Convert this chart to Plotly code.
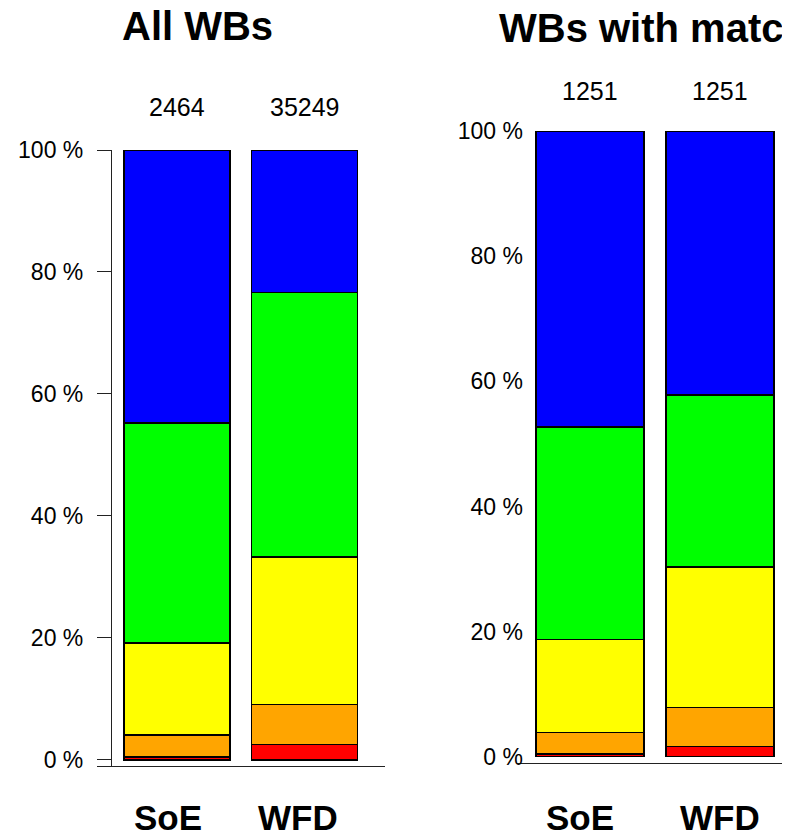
import plotly.graph_objects as go

# ---------------- data ----------------
categories = ["SoE", "WFD"]
status_names = ["Bad", "Poor", "Moderate", "Good", "High"]
status_colors = ["#FF0000", "#FFA500", "#FFFF00", "#00FF00", "#0000FF"]

# percentages, bottom -> top (Bad, Poor, Moderate, Good, High)
all_soe = [0.5, 3.55, 15.15, 36.0, 44.8]
all_wfd = [2.5, 6.6, 24.2, 43.3, 23.4]
match_soe = [0.45, 3.45, 14.85, 33.95, 47.3]
match_wfd = [1.6, 6.3, 22.4, 27.5, 42.2]

all_counts = [2464, 35249]
match_counts = [1251, 1251]

panel_titles = ["All WBs", "WBs with matching status"]
y_ticks = [0, 20, 40, 60, 80, 100]
y_tick_labels = ["0 %", "20 %", "40 %", "60 %", "80 %", "100 %"]

# ---------------- figure ----------------
# the page body has an 8px margin, so the figure is 8px smaller than the window
OFF = 8
W, H = 790 - OFF, 836 - OFF
FONT = "Liberation Sans, Arial, sans-serif"


def px(x):
    return (x - OFF) / W


def py(y):
    return 1 - (y - OFF) / H


fig = go.Figure()
xpos = [0, 1]

for panel, (soe, wfd) in enumerate([(all_soe, all_wfd), (match_soe, match_wfd)]):
    xa = "x" if panel == 0 else "x2"
    ya = "y" if panel == 0 else "y2"
    for i, name in enumerate(status_names):
        fig.add_trace(go.Bar(
            x=xpos, y=[soe[i], wfd[i]], name=name,
            marker=dict(color=status_colors[i], line=dict(color="black", width=1.5)),
            width=0.83, xaxis=xa, yaxis=ya, showlegend=False,
        ))

fig.update_layout(
    barmode="stack",
    width=W, height=H,
    margin=dict(l=0, r=0, t=0, b=0, autoexpand=False),
    paper_bgcolor="white", plot_bgcolor="white",
    font=dict(family=FONT, color="black"),
    xaxis=dict(domain=[px(97), px(385)], range=[-0.627, 1.631],
               showline=True, linecolor="#222", linewidth=1.2,
               showticklabels=False, ticks="", showgrid=False, zeroline=False,
               anchor="y", automargin=False),
    yaxis=dict(domain=[py(766), py(150)], range=[-1, 100],
               anchor="free", position=px(111),
               tickmode="array", tickvals=[-1] + y_ticks, ticktext=[""] + y_tick_labels,
               showline=True, linecolor="#222", linewidth=1.2,
               ticks="outside", ticklen=14, tickcolor="#222", tickwidth=1.2,
               ticklabelstandoff=9,
               tickfont=dict(size=23, family=FONT, color="black"),
               showgrid=False, zeroline=False, automargin=False),
    xaxis2=dict(domain=[px(517), 1.0], range=[-0.5615, 1.538],
                showline=True, linecolor="#222", linewidth=1.2,
                showticklabels=False, ticks="", showgrid=False, zeroline=False,
                anchor="y2", automargin=False),
    yaxis2=dict(domain=[py(763), py(131)], range=[-1, 100],
                tickmode="array", tickvals=y_ticks, ticktext=y_tick_labels,
                showline=False, ticks="", ticklabelstandoff=-7,
                tickfont=dict(size=23, family=FONT, color="black"),
                showgrid=False, zeroline=False, anchor="x2", automargin=False),
)

ann = []
# titles
ann.append(dict(text="<b>" + panel_titles[0] + "</b>", x=px(197), y=py(26),
                xref="paper", yref="paper", xanchor="center", yanchor="middle",
                showarrow=False, font=dict(size=40, family=FONT, color="black")))
ann.append(dict(text="<b>" + panel_titles[1] + "</b>", x=px(497), y=py(28),
                xref="paper", yref="paper", xanchor="left", yanchor="middle",
                showarrow=False, font=dict(size=40, family=FONT, color="black")))

# counts above the bars
for i, c in enumerate(all_counts):
    ann.append(dict(text=str(c), x=xpos[i], y=py(107), xref="x", yref="paper",
                    xanchor="center", yanchor="middle", showarrow=False,
                    font=dict(size=25, family=FONT, color="black")))
for i, c in enumerate(match_counts):
    ann.append(dict(text=str(c), x=xpos[i], y=py(91), xref="x2", yref="paper",
                    xanchor="center", yanchor="middle", showarrow=False,
                    font=dict(size=25, family=FONT, color="black")))

# category labels
shifts_left = [-9, -7]
shifts_right = [-10, 0]
for i, cat in enumerate(categories):
    ann.append(dict(text="<b>" + cat + "</b>", x=xpos[i], y=py(817), xref="x", yref="paper",
                    xshift=shifts_left[i], xanchor="center", yanchor="middle", showarrow=False,
                    font=dict(size=35, family=FONT, color="black")))
    ann.append(dict(text="<b>" + cat + "</b>", x=xpos[i], y=py(817), xref="x2", yref="paper",
                    xshift=shifts_right[i], xanchor="center", yanchor="middle", showarrow=False,
                    font=dict(size=35, family=FONT, color="black")))

fig.update_layout(annotations=ann)

fig.write_html("out.html")
